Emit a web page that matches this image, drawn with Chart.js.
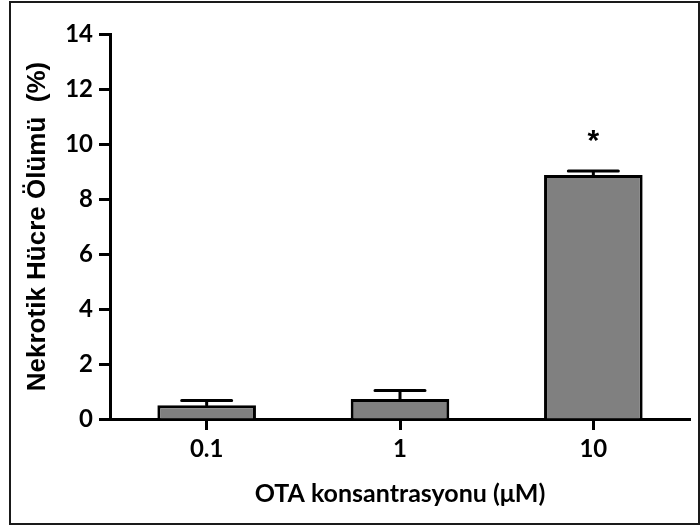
<!DOCTYPE html>
<html>
<head>
<meta charset="utf-8">
<script src="https://cdn.jsdelivr.net/npm/chart.js@4/dist/chart.umd.min.js"></script>
<style>
  html, body { margin: 0; padding: 0; background: #fff; }
  #wrap { position: relative; width: 700px; height: 525px; }
  #frame { position: absolute; left: 9px; top: 1px; width: 687px; height: 520px; border: 2px solid #1a1a1a; pointer-events: none; }
</style>
</head>
<body>
<div id="wrap">
  <canvas id="c" width="700" height="525"></canvas>
  <div id="frame"></div>
</div>
<script>
const categories = ['0.1', '1', '10'];
const means = [0.5, 0.73, 8.87];
const errors = [0.17, 0.31, 0.15];
const significance = ['', '', '*'];
const yTicks = [0, 2, 4, 6, 8, 10, 12, 14];
const xTitle = 'OTA konsantrasyonu (\u03BCM)';
const yTitle = 'Nekrotik H\u00FCcre \u00D6l\u00FCm\u00FC  (%)';

const errorBarPlugin = {
  id: 'errorBars',
  afterDatasetsDraw(chart) {
    const ctx = chart.ctx;
    const meta = chart.getDatasetMeta(0);
    const y = chart.scales.y;
    ctx.save();
    ctx.strokeStyle = '#000';
    ctx.lineWidth = 3;
    ctx.lineCap = 'round';
    meta.data.forEach((bar, i) => {
      const top = y.getPixelForValue(means[i] + errors[i]);
      const x = bar.x;
      ctx.beginPath();
      ctx.moveTo(x, bar.y);
      ctx.lineTo(x, top);
      ctx.moveTo(x - 25, top);
      ctx.lineTo(x + 25, top);
      ctx.stroke();
      if (significance[i]) {
        ctx.fillStyle = '#000';
        ctx.font = 'bold 30px "Liberation Sans", Arial, sans-serif';
        ctx.textAlign = 'center';
        ctx.textBaseline = 'middle';
        ctx.fillText(significance[i], x, y.getPixelForValue(means[i] + errors[i]) - 29);
      }
    });
    ctx.restore();
  }
};

new Chart(document.getElementById('c'), {
  type: 'bar',
  data: {
    labels: categories,
    datasets: [{
      data: means,
      backgroundColor: '#808080',
      borderColor: '#000',
      borderWidth: 3,
      borderSkipped: 'start',
      barPercentage: 0.51,
      categoryPercentage: 1.0
    }]
  },
  options: {
    responsive: false,
    animation: false,
    layout: { padding: { top: 34, right: 10, left: 0, bottom: 0 } },
    plugins: { legend: { display: false }, tooltip: { enabled: false } },
    scales: {
      x: {
        afterFit(scale) { scale.height = 106; },
        grid: { display: true, offset: false, drawOnChartArea: false, drawTicks: true, tickLength: 11, tickWidth: 3, tickColor: '#000' },
        border: { display: true, color: '#000', width: 3 },
        ticks: { color: '#000', padding: 5, font: { family: 'Lato, "Open Sans", sans-serif', size: 24, weight: 'bold' } },
        title: { display: true, text: xTitle, color: '#000', padding: { top: 0, bottom: 16 }, font: { family: 'Lato, "Open Sans", sans-serif', size: 25, weight: 'bold' } }
      },
      y: {
        min: 0,
        max: 14,
        afterFit(scale) { scale.width = 110; },
        afterBuildTicks(scale) { scale.ticks = yTicks.map(v => ({ value: v })); },
        grid: { display: true, drawOnChartArea: false, drawTicks: true, tickLength: 11, tickWidth: 3, tickColor: '#000' },
        border: { display: true, color: '#000', width: 3 },
        ticks: { color: '#000', padding: 6, font: { family: 'Lato, "Open Sans", sans-serif', size: 24, weight: 'bold' } },
        title: { display: true, text: yTitle, color: '#000', padding: { top: 22, bottom: 0 }, font: { family: '"Liberation Sans", Arial, sans-serif', size: 26, weight: 'bold' } }
      }
    }
  },
  plugins: [errorBarPlugin]
});
</script>
</body>
</html>
